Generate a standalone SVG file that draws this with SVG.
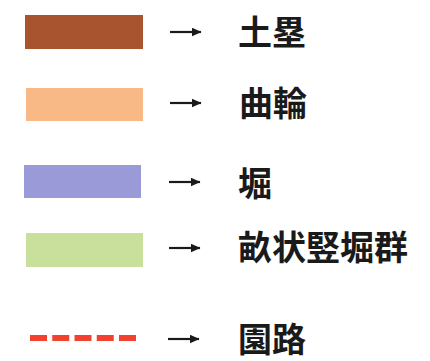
<svg xmlns="http://www.w3.org/2000/svg" width="430" height="361" viewBox="0 0 430 361">
<style>
.lbl{font-family:"Noto Sans CJK JP","Noto Sans CJK SC",sans-serif;font-size:34px;font-weight:bold;fill:#1a1a1a}
.arr{stroke:#1a1a1a;stroke-width:2.2;fill:none}
</style>
<defs>
<marker id="ah" viewBox="0 0 10 9" refX="9.5" refY="4.5" markerWidth="10" markerHeight="9" markerUnits="userSpaceOnUse" orient="auto">
<path d="M0,0 L10,4.5 L0,9 z" fill="#1a1a1a"/>
</marker>
</defs>
<rect width="430" height="361" fill="#ffffff"/>
<g id="item-dorui">
<rect x="25" y="15" width="118" height="34" fill="#A8552F"/>
<text class="lbl" x="238" y="44.5">土塁</text>
</g>
<g id="item-kuruwa">
<rect x="26" y="88" width="117" height="33" fill="#F9B987"/>
<text class="lbl" x="239" y="115.5">曲輪</text>
</g>
<g id="item-hori">
<rect x="24" y="165" width="117" height="33" fill="#9A9AD8"/>
<text class="lbl" x="238" y="196">堀</text>
</g>
<g id="item-uneboridate">
<rect x="26" y="233" width="117" height="34" fill="#C9DF9C"/>
<text class="lbl" x="238" y="260">畝状竪堀群</text>
</g>
<g id="item-enro">
<line x1="30" y1="338" x2="136" y2="338" stroke="#F2412F" stroke-width="6" stroke-dasharray="17 5.25"/>
<text class="lbl" x="238" y="352">園路</text>
</g>
<g id="connectors">
<line class="arr" x1="170" y1="32" x2="201" y2="32" marker-end="url(#ah)"/>
<line class="arr" x1="170" y1="103" x2="201" y2="103" marker-end="url(#ah)"/>
<line class="arr" x1="169" y1="182" x2="200" y2="182" marker-end="url(#ah)"/>
<line class="arr" x1="169" y1="248" x2="200" y2="248" marker-end="url(#ah)"/>
<line class="arr" x1="168" y1="339" x2="199" y2="339" marker-end="url(#ah)"/>
</g>
</svg>
